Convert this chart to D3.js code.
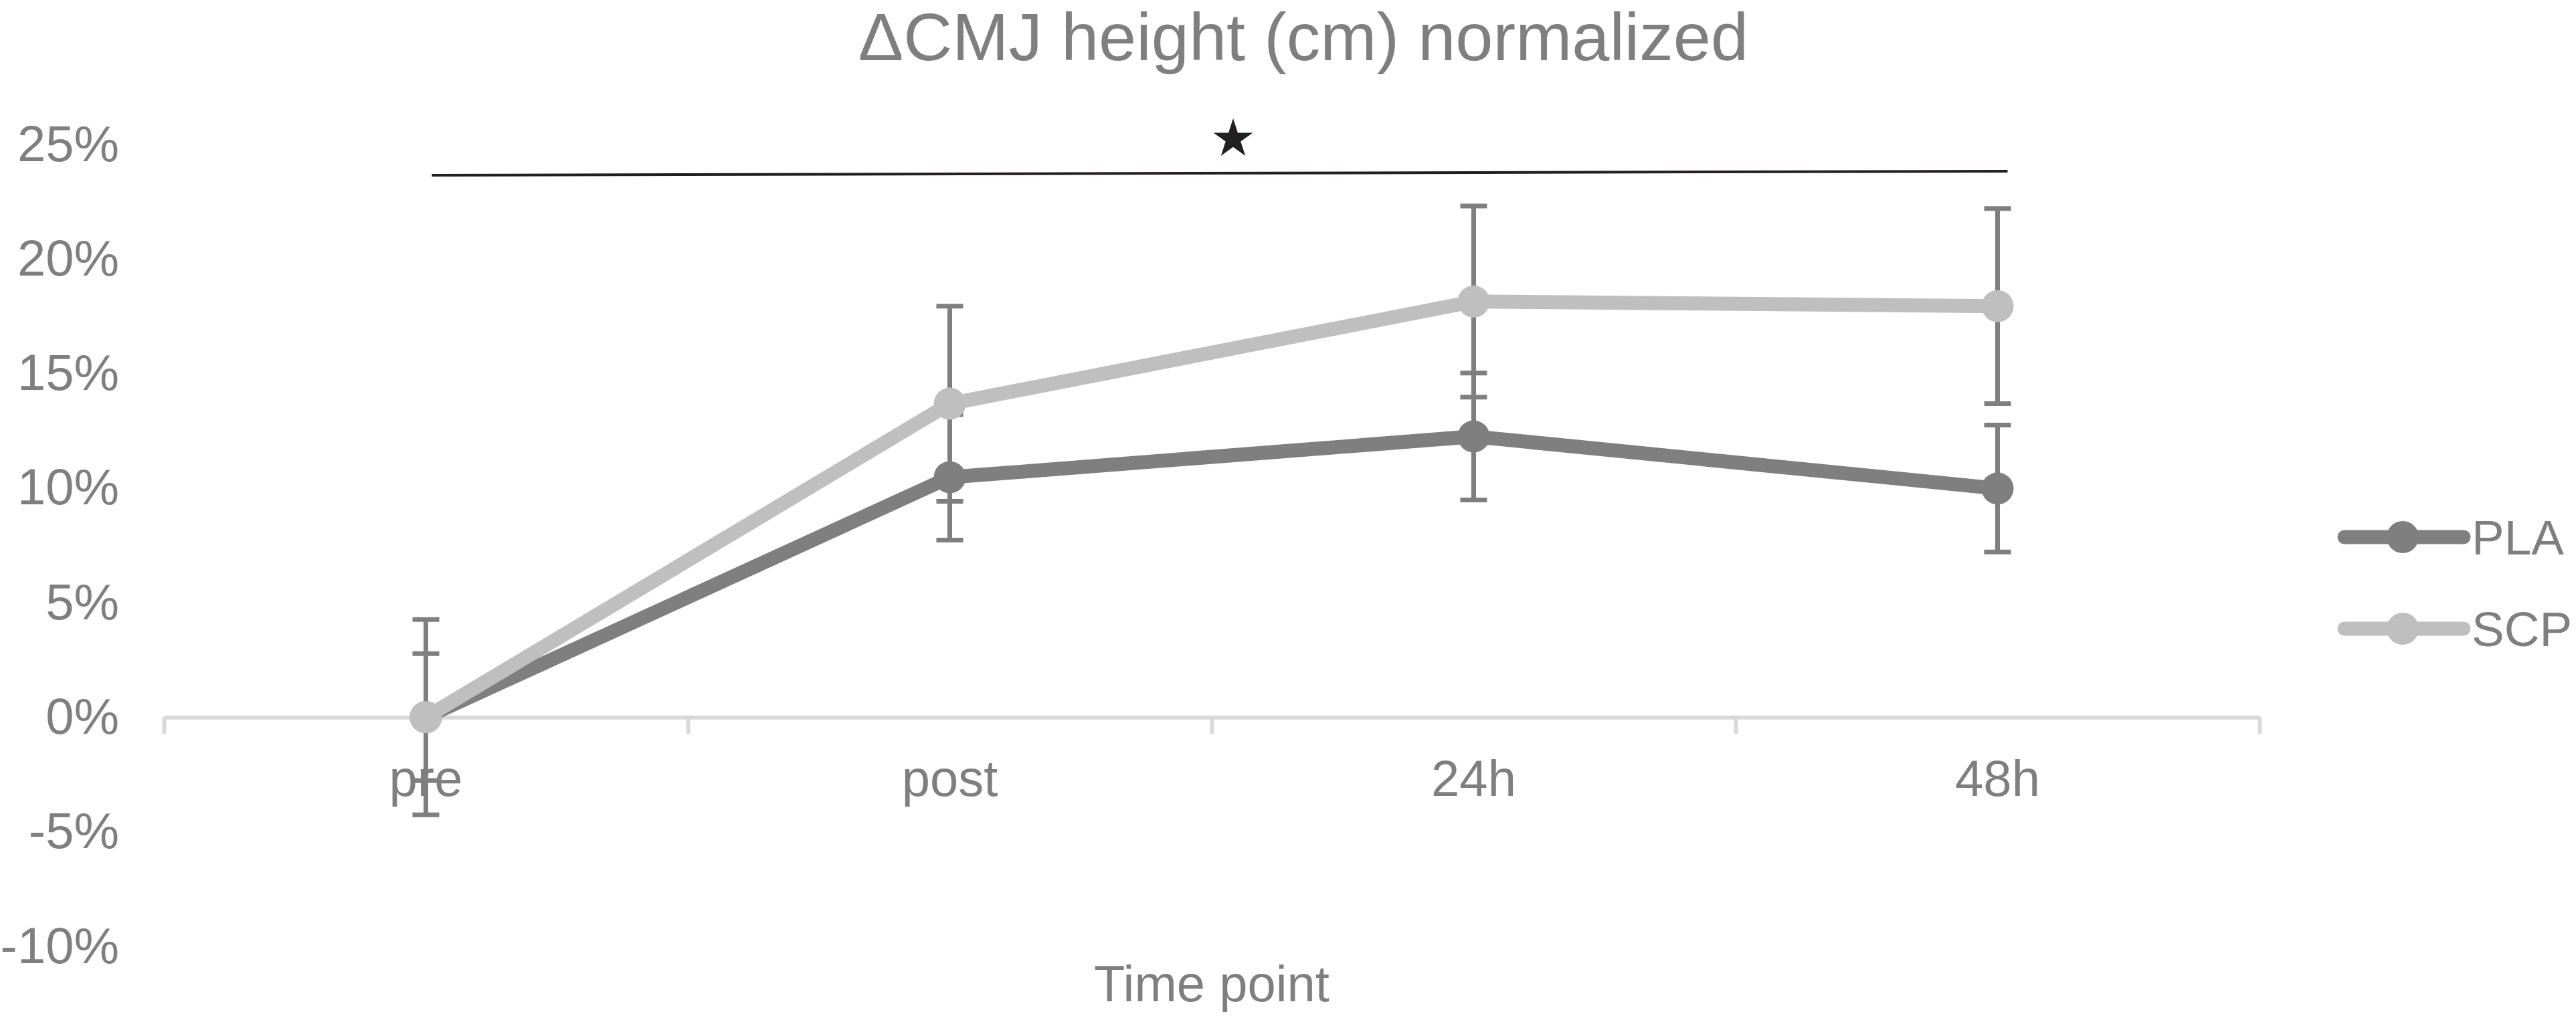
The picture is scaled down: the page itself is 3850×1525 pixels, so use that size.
<!DOCTYPE html>
<html lang="en">
<head>
    <meta charset="UTF-8">
    <title>CMJ height normalized</title>
    <style>
        *{
            margin: 0;
            padding: 0;
            box-sizing: border-box;
        }
        body{
            background: #fff;
        }
        svg{
            display: block;
            font-family: "Liberation Sans", Arial, sans-serif;
        }
    </style>
</head>
<body>
<div id="main"></div>
<script src="https://d3js.org/d3.v7.min.js"></script>
<script>
    /*===== data =====*/
    const categories = ['pre', 'post', '24h', '48h']
    const seriesNames = ['PLA', 'SCP']
    const plaValues = [0, 10.47, 12.25, 9.98]
    const plaErrors = [2.77, 2.74, 2.77, 2.77]
    const scpValues = [0, 13.68, 18.14, 17.94]
    const scpErrors = [4.26, 4.26, 4.17, 4.26]
    const yTicks = [-10, -5, 0, 5, 10, 15, 20, 25]
    // significance bar spanning pre -> 48h
    const sigFrom = 'pre'
    const sigTo = '48h'
    const sigLevel = [23.65, 23.83]
    const sigMark = '★'

    /*===== canvas =====*/
    const width = 3850
    const height = 1525
    const textColor = '#7f7f7f'
    const colors = {PLA: '#7f7f7f', SCP: '#bfbfbf'}

    const svg = d3.select('#main').append('svg')
        .attr('width', width)
        .attr('height', height)
        .attr('viewBox', `0 0 ${width} ${height}`)

    /*===== scales =====*/
    const x = d3.scaleBand()
        .domain(categories)
        .range([245, 3377])
    const xc = d => x(d) + x.bandwidth() / 2

    const y = d3.scaleLinear()
        .domain([-10, 25])
        .range([1414.8, 215.8])

    /*===== title =====*/
    svg.append('text')
        .attr('x', 1948)
        .attr('y', 90)
        .attr('text-anchor', 'middle')
        .attr('fill', textColor)
        .style('font-size', '101px')
        .text('ΔCMJ height (cm) normalized')

    /*===== y axis (labels only) =====*/
    const yAxis = svg.append('g')
        .attr('transform', 'translate(178,0)')
        .call(d3.axisLeft(y).tickValues(yTicks).tickSize(0).tickPadding(0).tickFormat(d => d + '%'))
    yAxis.select('.domain').remove()
    yAxis.selectAll('text')
        .attr('fill', textColor)
        .style('font-size', '76px')
        .style('font-family', '"Liberation Sans", Arial, sans-serif')

    /*===== x axis: line + boundary ticks =====*/
    const xEdges = d3.scaleLinear().domain([0, categories.length]).range(x.range())
    const xLine = svg.append('g')
        .attr('transform', `translate(0,${y(0)})`)
        .call(d3.axisBottom(xEdges).tickValues(d3.range(categories.length + 1)).tickSize(25).tickSizeOuter(0).tickFormat(''))
    xLine.select('.domain').attr('stroke', '#d9d9d9').attr('stroke-width', 6)
    xLine.selectAll('.tick line').attr('stroke', '#d9d9d9').attr('stroke-width', 6)

    /*category labels*/
    const xAxis = svg.append('g')
        .attr('transform', `translate(0,${y(0)})`)
        .call(d3.axisBottom(x).tickSize(0).tickPadding(64))
    xAxis.select('.domain').remove()
    xAxis.selectAll('text')
        .attr('fill', textColor)
        .style('font-size', '76px')
        .style('font-family', '"Liberation Sans", Arial, sans-serif')

    svg.append('text')
        .attr('x', (x.range()[0] + x.range()[1]) / 2)
        .attr('y', 1497)
        .attr('text-anchor', 'middle')
        .attr('fill', textColor)
        .style('font-size', '76px')
        .text('Time point')

    /*===== series =====*/
    const series = [
        {name: 'PLA', values: plaValues, errors: plaErrors},
        {name: 'SCP', values: scpValues, errors: scpErrors}
    ]

    /*error bars first, markers sit on top*/
    const capW = 20
    series.forEach(s => {
        const g = svg.append('g').attr('stroke', '#7f7f7f').attr('stroke-width', 7)
        categories.forEach((c, i) => {
            const cx = xc(c)
            const lo = y(s.values[i] - s.errors[i])
            const hi = y(s.values[i] + s.errors[i])
            g.append('line').attr('x1', cx).attr('x2', cx).attr('y1', lo).attr('y2', hi)
            g.append('line').attr('x1', cx - capW).attr('x2', cx + capW).attr('y1', lo).attr('y2', lo)
            g.append('line').attr('x1', cx - capW).attr('x2', cx + capW).attr('y1', hi).attr('y2', hi)
        })
    })

    const line = d3.line()
        .x((d, i) => xc(categories[i]))
        .y(d => y(d))

    series.forEach(s => {
        svg.append('path')
            .datum(s.values)
            .attr('d', line)
            .attr('fill', 'none')
            .attr('stroke', colors[s.name])
            .attr('stroke-width', 21)
            .attr('stroke-linejoin', 'round')
        svg.append('g').selectAll('circle')
            .data(s.values)
            .join('circle')
            .attr('cx', (d, i) => xc(categories[i]))
            .attr('cy', d => y(d))
            .attr('r', 24)
            .attr('fill', colors[s.name])
    })

    /*===== significance bar =====*/
    const sx1 = xc(sigFrom) + 9
    const sx2 = xc(sigTo) + 15
    svg.append('line')
        .attr('x1', sx1).attr('x2', sx2)
        .attr('y1', y(sigLevel[0])).attr('y2', y(sigLevel[1]))
        .attr('stroke', '#231f20')
        .attr('stroke-width', 4)
    const starR = 31
    svg.append('path')
        .attr('d', d3.symbol(d3.symbolStar, starR * starR / 0.8908130915292852)())
        .attr('transform', `translate(${(sx1 + sx2) / 2 + 20},${y(d3.mean(sigLevel)) - 51})`)
        .attr('fill', '#231f20')
        .append('title').text(sigMark)

    /*===== legend =====*/
    const legend = svg.append('g').attr('transform', 'translate(3504,803)')
    seriesNames.forEach((name, i) => {
        const g = legend.append('g').attr('transform', `translate(0,${i * 137})`)
        g.append('line')
            .attr('x1', 0).attr('x2', 178)
            .attr('stroke', colors[name])
            .attr('stroke-width', 21)
            .attr('stroke-linecap', 'round')
        g.append('circle')
            .attr('cx', 87)
            .attr('r', 24)
            .attr('fill', colors[name])
        g.append('text')
            .attr('x', 190)
            .attr('y', 26)
            .attr('fill', textColor)
            .style('font-size', '73px')
            .text(name)
    })
</script>
</body>
</html>
